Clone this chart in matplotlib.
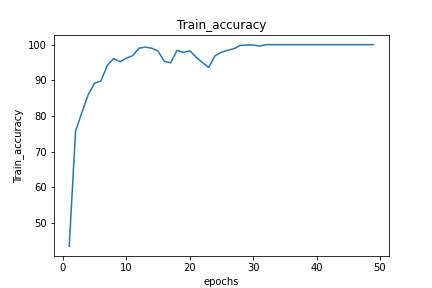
import matplotlib
matplotlib.use("Agg")
import matplotlib.pyplot as plt

# training accuracy per epoch
epochs = list(range(1, 50))
train_acc = [43.5, 75.7, 81.0, 86.0, 89.2, 89.8, 94.2, 96.1, 95.2, 96.2,
             96.9, 99.0, 99.3, 99.0, 98.2, 95.3, 94.9, 98.4, 97.8, 98.3,
             96.5, 95.0, 93.6, 96.9, 97.9, 98.4, 98.9, 99.8, 99.9, 99.9,
             99.6, 100.0, 100.0, 100.0, 100.0, 100.0, 100.0, 100.0, 100.0, 100.0,
             100.0, 100.0, 100.0, 100.0, 100.0, 100.0, 100.0, 100.0, 100.0]

fig, ax = plt.subplots(figsize=(6, 4), dpi=72)
ax.plot(epochs, train_acc)
ax.set_title("Train_accuracy")
ax.set_xlabel("epochs")
ax.set_ylabel("Train_accuracy")

fig.savefig("out.png", dpi=72)
